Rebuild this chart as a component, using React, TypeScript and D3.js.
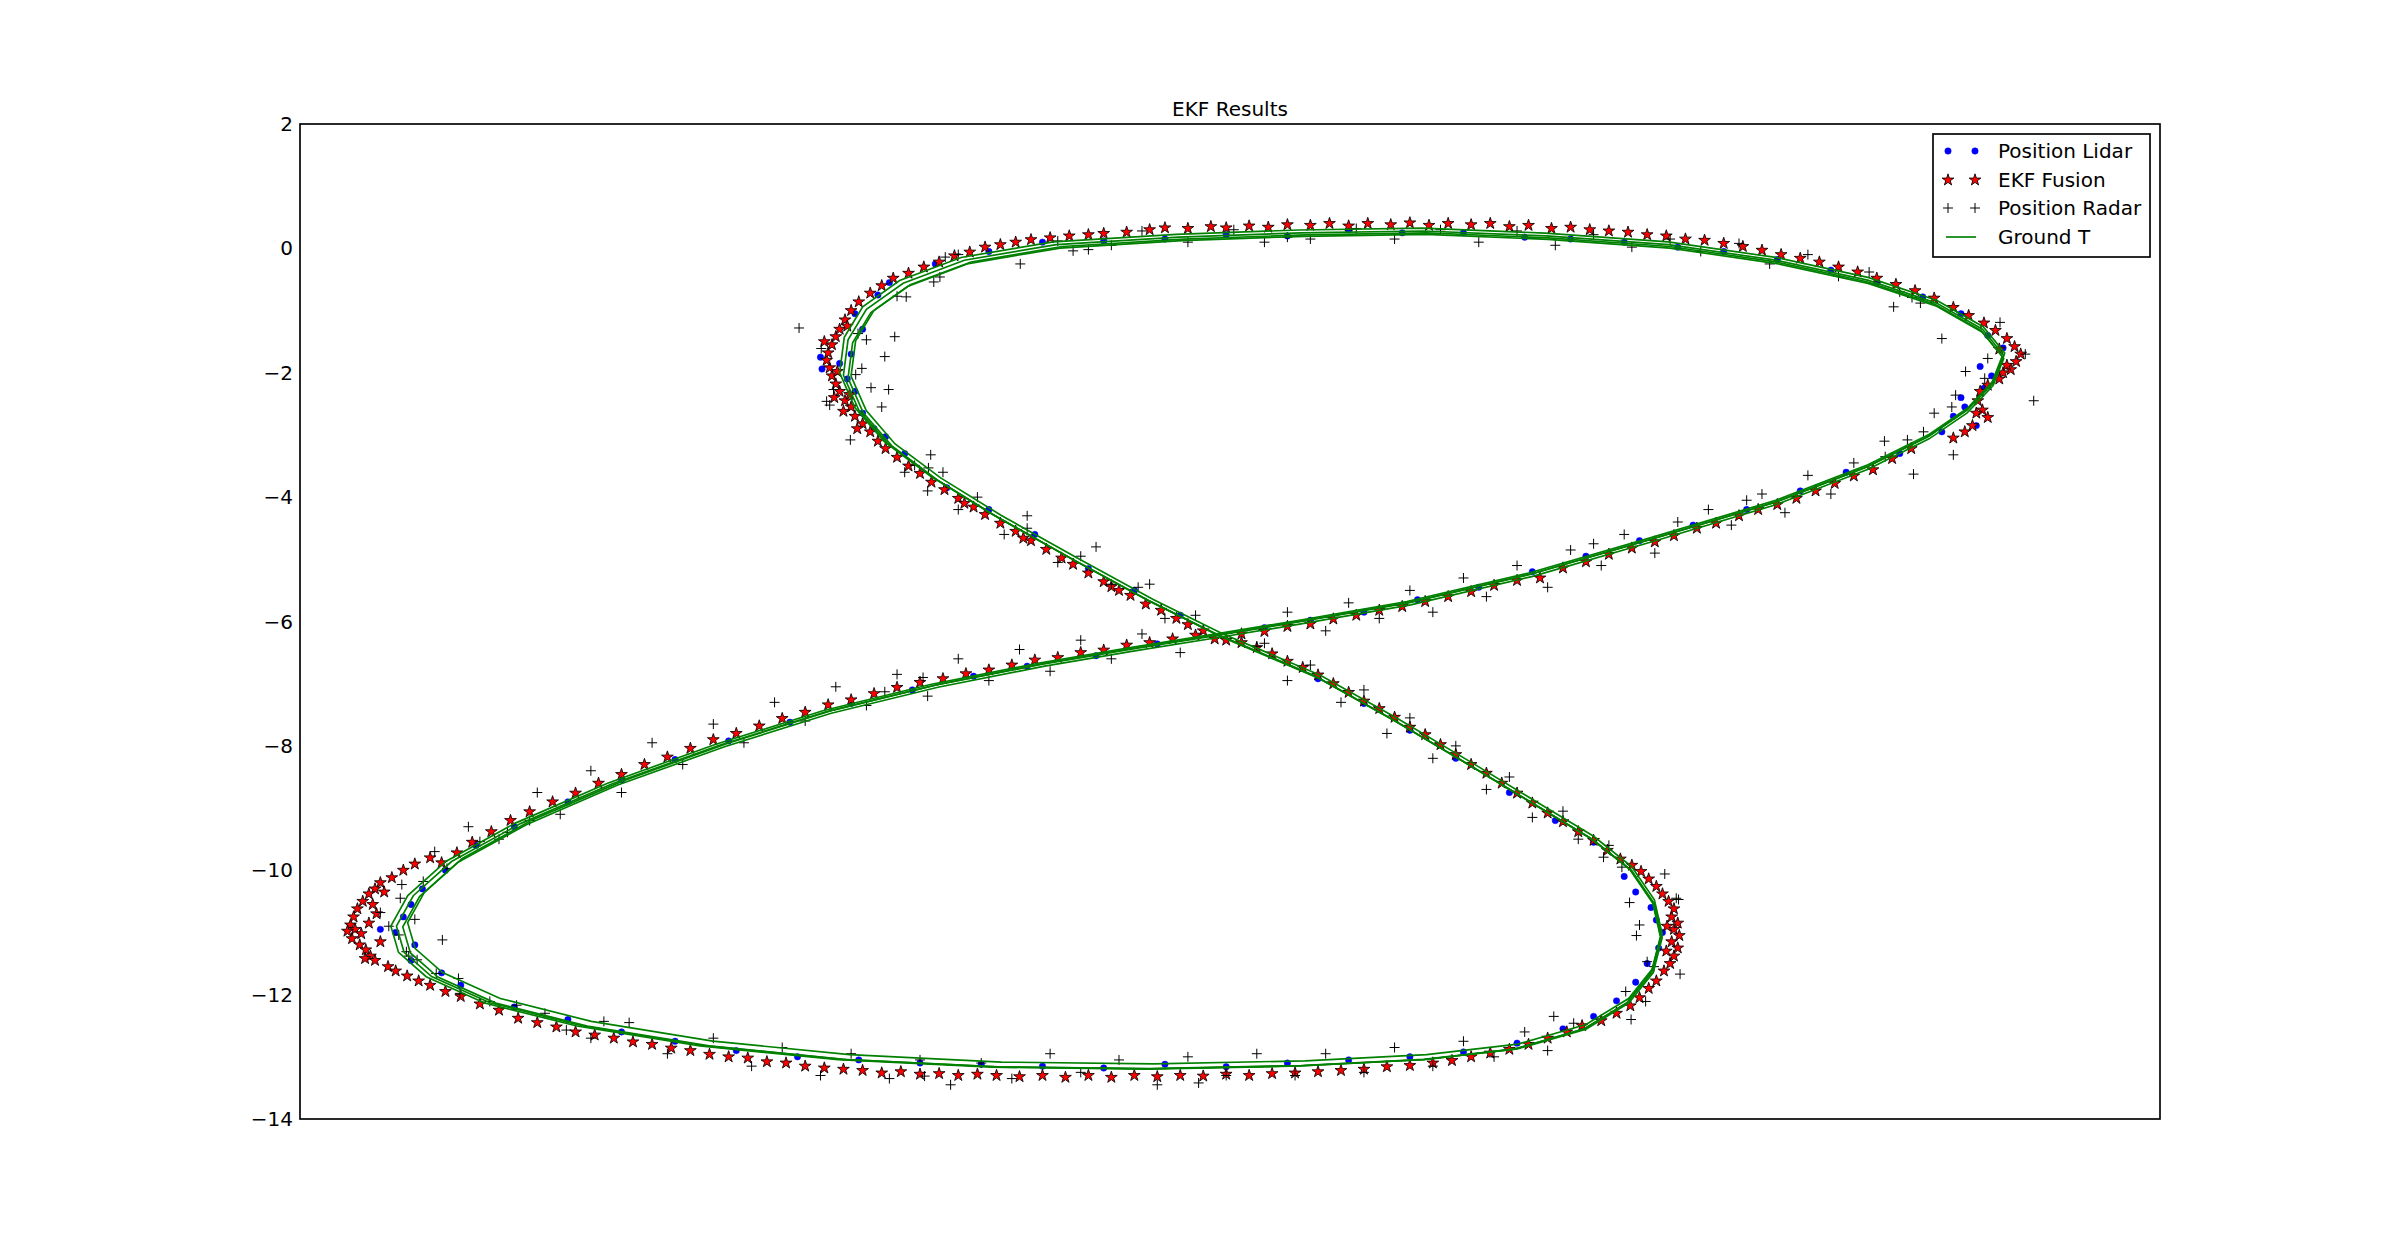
import React from "react";
import * as d3 from "d3";

// ---------- data ----------
const yTicks = [2, 0, -2, -4, -6, -8, -10, -12, -14];
const xDomain: [number, number] = [0, 24.3];
const yDomain: [number, number] = [-14, 2];
const title = "EKF Results";
const legendLabels = ["Position Lidar", "EKF Fusion", "Position Radar", "Ground T"];

// ground truth, one lap
const gtLap: [number, number][] = [
  [12.0, -6.22], [11.08, -5.66], [10.08, -4.99], [9.08, -4.3], [8.28, -3.69], [7.68, -3.14],
  [7.3, -2.6], [7.1, -2.04], [7.16, -1.47], [7.4, -0.98], [7.88, -0.56], [8.68, -0.19],
  [9.88, 0.06], [11.48, 0.18], [13.08, 0.25], [14.68, 0.28], [16.28, 0.2], [17.88, 0.06],
  [19.28, -0.19], [20.48, -0.51], [21.38, -0.88], [21.98, -1.3], [22.26, -1.72], [22.12, -2.16],
  [21.78, -2.6], [21.28, -3.02], [20.48, -3.51], [19.28, -4.08], [17.68, -4.67], [16.08, -5.24],
  [14.48, -5.7], [13.08, -6.0], [12.0, -6.22], [10.88, -6.44], [9.68, -6.69], [8.28, -7.03],
  [6.88, -7.45], [5.48, -7.99], [4.08, -8.61], [2.88, -9.25], [1.98, -9.86], [1.48, -10.41],
  [1.26, -10.9], [1.36, -11.32], [1.72, -11.71], [2.48, -12.13], [3.68, -12.5], [5.28, -12.82],
  [7.08, -13.04], [9.08, -13.16], [11.08, -13.19], [13.08, -13.14], [14.68, -13.04], [15.88, -12.87],
  [16.78, -12.55], [17.34, -12.13], [17.66, -11.64], [17.78, -11.07], [17.68, -10.53], [17.38, -9.99],
  [16.88, -9.5], [16.18, -8.98], [15.28, -8.31], [14.28, -7.58], [13.28, -6.89], [12.48, -6.47],
  [12.0, -6.22],
];
// the ground truth is drawn for several laps, each slightly shifted / scaled
const lapScale = [1.0, 0.996, 1.004, 0.992];
const lapShiftX = [0.0, 0.04, -0.03, 0.06];
const lapShiftY = [0.0, -0.03, 0.02, 0.02];

const fusionPts: [number, number][] = [
  // upper-left branch
  [11.8, -6.15], [11.6, -6.05], [11.45, -5.95], [11.25, -5.82], [11.05, -5.72], [10.85, -5.58], [10.7, -5.5],
  [10.5, -5.36], [10.3, -5.22], [10.1, -5.08], [9.95, -4.98], [9.75, -4.84], [9.55, -4.7], [9.35, -4.55],
  [9.15, -4.42], [8.95, -4.28], [8.8, -4.16], [8.6, -4.02], [8.42, -3.88], [8.25, -3.76], [8.1, -3.62],
  [7.95, -3.5], [7.8, -3.36], [7.65, -3.22], [9.45, -4.66], [8.68, -4.1], [10.6, -5.44],
  // upper-left tip
  [7.55, -3.1], [7.45, -2.95], [7.35, -2.82], [7.25, -2.7], [7.2, -2.55], [7.12, -2.45], [7.05, -2.3],
  [7.0, -2.18], [6.95, -2.05], [6.92, -1.92], [6.88, -1.8], [6.9, -1.68], [6.95, -1.55], [7.0, -1.42],
  [6.85, -1.5], [7.05, -1.3], [7.12, -1.15], [7.2, -1.0], [7.3, -0.86], [7.45, -0.72], [7.6, -0.6],
  [7.75, -0.48], [7.18, -2.35], [7.1, -2.62], [7.02, -1.98], [7.28, -2.9], [6.98, -2.4], [7.15, -1.25],
  // top arc
  [7.95, -0.4], [8.15, -0.3], [8.35, -0.22], [8.55, -0.12], [8.75, -0.06], [8.95, 0.02], [9.15, 0.06],
  [9.35, 0.1], [9.55, 0.14], [9.8, 0.17], [10.05, 0.2], [10.3, 0.22], [10.5, 0.24], [10.8, 0.26],
  [11.1, 0.3], [11.3, 0.33], [11.6, 0.32], [11.9, 0.35], [12.1, 0.33], [12.4, 0.36], [12.65, 0.34],
  [12.9, 0.38], [13.2, 0.37], [13.45, 0.4], [13.7, 0.36], [13.95, 0.4], [14.25, 0.38], [14.5, 0.41],
  [14.75, 0.37], [15.0, 0.4], [15.3, 0.38], [15.55, 0.4], [15.8, 0.35], [16.05, 0.37], [16.35, 0.32],
  [16.6, 0.34], [16.85, 0.3], [17.1, 0.28], [17.35, 0.26], [17.6, 0.22], [17.85, 0.2], [18.1, 0.15],
  [18.35, 0.13], [18.6, 0.08], [18.85, 0.03], [19.1, -0.03], [19.35, -0.1], [19.6, -0.16], [19.85, -0.22],
  [20.1, -0.3], [20.35, -0.38], [20.6, -0.48], [20.85, -0.58], [21.1, -0.68], [21.35, -0.8],
  // top-right tip
  [21.6, -0.95], [21.8, -1.08], [22.0, -1.2], [22.15, -1.32], [22.3, -1.45], [22.4, -1.58], [22.48, -1.7],
  [22.42, -1.82], [22.35, -1.95], [22.25, -2.0], [22.2, -2.1], [22.05, -2.2], [21.95, -2.3], [21.92, -2.45],
  [21.98, -2.6], [22.05, -2.72], [21.85, -2.85], [21.75, -2.95], [21.6, -3.05], [22.2, -1.62], [22.3, -1.88],
  [21.9, -2.65],
  // right branch
  [21.05, -3.22], [20.8, -3.38], [20.55, -3.56], [20.3, -3.66], [20.05, -3.78], [19.8, -3.9], [19.55, -4.02],
  [19.3, -4.12], [19.05, -4.2], [18.8, -4.3], [18.5, -4.42], [18.25, -4.5], [17.95, -4.62], [17.7, -4.72],
  [17.4, -4.82], [17.1, -4.92], [16.8, -5.04], [16.5, -5.14], [16.2, -5.3], [15.9, -5.34], [15.6, -5.42],
  [15.3, -5.52], [15.0, -5.6], [14.7, -5.68], [14.4, -5.76], [14.1, -5.82], [13.8, -5.9], [13.5, -5.96],
  [13.2, -6.04], [12.9, -6.08], [12.6, -6.16], [12.3, -6.2], [12.1, -6.3], [11.95, -6.28],
  // lower-left branch
  [11.7, -6.22], [11.4, -6.28], [11.1, -6.34], [10.8, -6.38], [10.5, -6.46], [10.2, -6.5], [9.9, -6.58],
  [9.6, -6.62], [9.3, -6.7], [9.0, -6.78], [8.7, -6.84], [8.4, -6.92], [8.1, -6.98], [7.8, -7.06],
  [7.5, -7.16], [7.2, -7.26], [6.9, -7.34], [6.6, -7.46], [6.3, -7.56], [6.0, -7.68], [5.7, -7.8],
  [5.4, -7.9], [5.1, -8.04], [4.8, -8.18], [4.5, -8.3], [4.2, -8.46], [3.9, -8.6], [3.6, -8.76],
  [3.3, -8.9], [3.0, -9.06], [2.75, -9.2], [2.5, -9.38], [2.25, -9.55], [2.05, -9.72], [1.85, -9.88],
  // bottom-left tip
  [1.7, -9.8], [1.5, -9.9], [1.35, -10.0], [1.2, -10.12], [1.05, -10.2], [0.98, -10.3], [0.9, -10.38],
  [0.82, -10.5], [0.75, -10.62], [0.7, -10.75], [0.66, -10.88], [0.72, -10.95], [0.8, -11.02], [0.68, -11.1],
  [0.78, -11.2], [0.86, -11.28], [0.92, -11.38], [0.98, -11.45], [0.85, -11.42], [1.0, -10.7], [0.9, -10.85],
  [1.05, -11.15], [1.15, -11.55], [1.25, -11.62], [1.4, -11.7], [1.55, -11.78], [1.7, -11.85], [1.9, -11.95],
  [2.1, -12.03], [2.35, -12.15], [2.6, -12.25], [0.95, -10.55], [0.62, -10.98], [1.1, -10.35],
  // bottom arc
  [2.85, -12.38], [3.1, -12.45], [3.35, -12.52], [3.6, -12.6], [3.85, -12.65], [4.1, -12.7], [4.35, -12.76],
  [4.6, -12.8], [4.85, -12.86], [5.1, -12.9], [5.35, -12.96], [5.6, -13.0], [5.85, -13.02], [6.1, -13.08],
  [6.35, -13.1], [6.6, -13.15], [6.85, -13.18], [7.1, -13.2], [7.35, -13.22], [7.6, -13.26], [7.85, -13.24],
  [8.1, -13.28], [8.35, -13.27], [8.6, -13.3], [8.85, -13.28], [9.1, -13.3], [9.4, -13.32], [9.7, -13.3],
  [10.0, -13.33], [10.3, -13.3], [10.6, -13.33], [10.9, -13.3], [11.2, -13.32], [11.5, -13.3], [11.8, -13.31],
  [12.1, -13.28], [12.4, -13.3], [12.7, -13.27], [13.0, -13.26], [13.3, -13.24], [13.6, -13.22], [13.9, -13.2],
  [14.2, -13.16], [14.5, -13.14], [14.8, -13.1], [15.05, -13.06], [15.3, -13.0], [15.55, -12.94], [15.8, -12.88],
  [16.05, -12.8], [16.3, -12.7], [16.55, -12.6], [16.75, -12.5],
  // bottom-right tip
  [17.0, -12.42], [17.2, -12.3], [17.38, -12.18], [17.5, -12.05], [17.62, -11.9], [17.72, -11.78], [17.82, -11.62],
  [17.9, -11.5], [17.95, -11.38], [18.0, -11.25], [17.92, -11.15], [18.02, -11.05], [17.95, -10.95], [18.0, -10.85],
  [17.92, -10.75], [17.95, -10.62], [17.88, -10.5], [17.8, -10.38], [17.72, -10.26], [17.62, -10.14], [17.52, -10.02],
  [17.4, -9.92], [17.85, -11.3], [17.86, -10.9],
  // lower-right branch
  [17.25, -9.82], [17.08, -9.68], [16.9, -9.52], [16.7, -9.38], [16.5, -9.22], [16.3, -9.08], [16.1, -8.92],
  [15.9, -8.76], [15.7, -8.6], [15.5, -8.44], [15.3, -8.3], [15.1, -8.14], [14.9, -7.98], [14.7, -7.82],
  [14.5, -7.7], [14.3, -7.54], [14.1, -7.4], [13.9, -7.28], [13.7, -7.14], [13.5, -7.0], [13.3, -6.86],
  [13.1, -6.74], [12.9, -6.64], [12.7, -6.52], [12.5, -6.42], [12.3, -6.34],
];

const lidarPts: [number, number][] = [
  [11.5, -5.9], [10.9, -5.5], [10.3, -5.15], [9.6, -4.6], [9.0, -4.2], [8.45, -3.85], [7.9, -3.3], [7.5, -2.9],
  [7.35, -2.65], [7.65, -3.03], [7.25, -2.3], [7.15, -2.1], [7.05, -1.85], [7.2, -1.7], [6.82, -1.94], [6.8, -1.75],
  [7.35, -1.3], [7.25, -1.05], [7.55, -0.75], [7.7, -0.55],
  [8.3, -0.25], [9.0, -0.05], [9.7, 0.1], [10.5, 0.12], [11.3, 0.15], [12.1, 0.22], [12.9, 0.2], [13.7, 0.3],
  [14.4, 0.25], [15.2, 0.25], [16.0, 0.18], [16.6, 0.15], [17.3, 0.1], [18.0, 0.02], [18.6, -0.05], [19.3, -0.18],
  [20.0, -0.35], [20.6, -0.55], [21.2, -0.78], [21.7, -1.05],
  [22.05, -1.4], [22.25, -1.6], [21.95, -1.9], [22.1, -2.05], [22.0, -2.25], [21.7, -2.4], [21.75, -2.55],
  [21.6, -2.7], [21.9, -2.85], [21.45, -2.95],
  [20.9, -3.3], [20.2, -3.6], [19.6, -3.9], [18.9, -4.2], [18.2, -4.45], [17.5, -4.7], [16.8, -4.95], [16.1, -5.2],
  [15.4, -5.45], [14.6, -5.65], [13.9, -5.85], [13.2, -5.98], [12.6, -6.1],
  [11.2, -6.36], [10.4, -6.55], [9.5, -6.72], [8.8, -6.88], [8.0, -7.1], [7.2, -7.32], [6.4, -7.62], [5.6, -7.92],
  [4.9, -8.22], [4.2, -8.55], [3.5, -8.9], [2.8, -9.3], [2.3, -9.6],
  [1.9, -10.0], [1.6, -10.3], [1.45, -10.55], [1.35, -10.75], [1.25, -11.0], [1.05, -10.95], [1.5, -11.2],
  [1.45, -11.45], [1.85, -11.65], [2.1, -11.85],
  [2.8, -12.2], [3.5, -12.4], [4.2, -12.6], [4.9, -12.75], [5.7, -12.9], [6.5, -13.0], [7.3, -13.05], [8.1, -13.1],
  [8.9, -13.12], [9.7, -13.15], [10.5, -13.18], [11.3, -13.12], [12.1, -13.16], [12.9, -13.1], [13.7, -13.05],
  [14.5, -13.0], [15.2, -12.92], [15.9, -12.78], [16.5, -12.55],
  [16.9, -12.35], [17.2, -12.1], [17.45, -11.8], [17.6, -11.5], [17.75, -11.25], [17.8, -11.0], [17.72, -10.8],
  [17.65, -10.6], [17.45, -10.35], [17.3, -10.1],
  [16.9, -9.55], [16.4, -9.2], [15.8, -8.75], [15.1, -8.2], [14.5, -7.75], [13.9, -7.32], [13.3, -6.92], [12.7, -6.55],
];

const radarPts: [number, number][] = [
  // upper-left tip and branch
  [6.52, -1.28], [7.29, -1.37], [7.4, -1.47], [7.77, -1.42], [7.64, -1.74], [7.34, -1.93], [7.26, -2.03],
  [7.46, -2.24], [7.69, -2.27], [7.6, -2.55], [7.19, -3.08], [8.24, -3.32], [8.21, -3.53], [8.03, -3.49],
  [7.8, -0.77], [7.92, -0.78], [8.28, -0.54], [8.36, -0.46], [9.41, -0.25], [10.1, -0.04], [6.88, -2.46],
  [6.92, -2.52], [6.97, -2.27], [6.81, -1.61], [8.43, -0.14],
  [11.7, -5.9], [11.3, -5.95], [10.95, -5.45], [10.6, -5.4], [10.2, -4.95], [9.9, -5.05], [9.5, -4.5],
  [9.2, -4.6], [8.85, -4.0], [8.6, -4.2], [8.4, -3.6], [8.2, -3.9], [7.9, -3.6], [10.4, -4.8], [11.1, -5.4],
  [9.5, -4.3],
  // top arc
  [8.6, -0.1], [9.9, 0.12], [10.6, 0.05], [11.0, 0.28], [11.6, 0.1], [12.2, 0.3], [12.6, 0.1], [13.2, 0.15],
  [13.8, 0.32], [14.3, 0.15], [14.9, 0.3], [15.4, 0.1], [15.9, 0.28], [16.4, 0.05], [16.9, 0.22], [17.4, 0.02],
  [17.9, 0.15], [18.3, -0.05], [18.8, 0.08], [19.2, -0.25], [19.7, -0.1], [20.1, -0.45], [20.5, -0.38],
  [20.9, -0.7], [10.3, -0.02], [12.9, 0.18],
  // top-right tip
  [21.45, -1.45], [20.82, -0.94], [21.76, -1.98], [22.05, -1.77], [22.01, -2.09], [21.63, -2.36], [21.35, -2.65],
  [21.21, -2.95], [21.0, -3.08], [21.6, -3.32], [22.65, -2.45], [22.54, -1.7], [22.21, -1.19], [21.58, -2.55],
  [21.08, -3.63], [20.71, -3.35], [21.17, -0.88], [21.06, -0.79],
  // right branch
  [20.7, -3.1], [20.3, -3.45], [20.0, -3.95], [19.7, -3.65], [19.4, -4.25], [19.1, -3.95], [18.7, -4.45],
  [18.4, -4.2], [18.0, -4.4], [17.7, -4.9], [17.3, -4.6], [17.0, -5.1], [16.6, -4.85], [16.3, -5.45],
  [15.9, -5.1], [15.5, -5.6], [15.2, -5.3], [14.8, -5.85], [14.5, -5.5], [14.1, -5.95], [13.7, -5.7],
  [13.4, -6.15], [12.9, -5.85], [12.5, -6.4], [16.9, -4.75], [18.9, -4.05],
  // lower-left branch
  [11.5, -6.5], [11.0, -6.2], [10.6, -6.6], [10.2, -6.3], [9.8, -6.8], [9.4, -6.45], [9.0, -6.95], [8.6, -6.6],
  [8.2, -7.2], [7.8, -6.85], [7.4, -7.35], [7.0, -7.05], [6.6, -7.6], [6.2, -7.3], [5.8, -7.95], [5.4, -7.65],
  [5.0, -8.3], [4.6, -7.95], [4.2, -8.75], [3.8, -8.4], [3.4, -9.1], [3.1, -8.75], [2.6, -9.5], [2.2, -9.3],
  [7.64, -7.13], [8.14, -6.9],
  // bottom-left tip
  [1.05, -10.68], [1.5, -10.79], [1.86, -11.12], [1.16, -10.9], [1.29, -11.04], [1.39, -11.31], [1.42, -11.38],
  [1.53, -11.44], [1.92, -9.97], [1.61, -10.18], [1.76, -9.7], [2.35, -9.54], [2.71, -9.39], [3.0, -9.2],
  [2.07, -11.74], [1.78, -11.66], [2.09, -11.98], [2.48, -12.11], [2.83, -12.17], [3.48, -12.57], [3.97, -12.43],
  [1.33, -10.23], [1.31, -10.45],
  // bottom arc
  [3.2, -12.3], [3.8, -12.7], [4.3, -12.45], [4.8, -12.95], [5.4, -12.7], [5.9, -13.15], [6.3, -12.85],
  [6.8, -13.3], [7.2, -12.95], [7.7, -13.35], [8.1, -13.05], [8.5, -13.45], [8.9, -13.1], [9.3, -13.35],
  [9.8, -12.95], [10.2, -13.25], [10.7, -13.05], [11.2, -13.45], [11.6, -13.0], [12.1, -13.3], [12.5, -12.95],
  [13.0, -13.3], [13.4, -12.95], [13.9, -13.25], [14.3, -12.85], [14.8, -13.15], [15.2, -12.75], [15.6, -13.0],
  [16.0, -12.6], [16.3, -12.9], [11.74, -13.42], [8.16, -13.31],
  // bottom-right tip
  [17.83, -10.06], [18.01, -10.47], [17.37, -10.52], [17.5, -10.88], [17.46, -11.05], [17.6, -11.47],
  [18.03, -11.67], [17.32, -11.95], [17.58, -12.11], [17.39, -12.4], [17.03, -9.79], [17.27, -9.95],
  [17.69, -11.55], [16.38, -12.35], [16.64, -12.46], [17.98, -10.45],
  // lower-right branch
  [17.1, -9.6], [16.7, -9.5], [16.5, -9.05], [16.1, -9.15], [15.8, -8.5], [15.5, -8.7], [15.1, -8.0],
  [14.8, -8.2], [14.5, -7.55], [14.2, -7.8], [13.9, -7.1], [13.6, -7.3], [13.2, -6.7], [12.9, -6.95], [12.6, -6.35],
];

// ---------- drawing ----------
const W = 2400;
const H = 1243;
const M = { left: 300, right: 2160, top: 124, bottom: 1119 };
const FONT = "'DejaVu Sans', sans-serif";

function starPath(R: number) {
  const r = R * 0.381966;
  const pts: string[] = [];
  for (let i = 0; i < 10; i++) {
    const rad = i % 2 === 0 ? R : r;
    const a = -Math.PI / 2 + (i * Math.PI) / 5;
    pts.push(`${(rad * Math.cos(a)).toFixed(2)},${(rad * Math.sin(a)).toFixed(2)}`);
  }
  return "M" + pts.join("L") + "Z";
}

const STAR = starPath(6.2);
const PLUS = "M-5,0H5M0,-5V5";

export default function App() {
  const x = d3.scaleLinear().domain(xDomain).range([M.left, M.right]);
  const y = d3.scaleLinear().domain(yDomain).range([M.bottom, M.top]);

  const laps = lapScale.map((s, i) =>
    gtLap.map(([px, py]) => [
      12.0 + (px - 12.0) * s + lapShiftX[i],
      -6.22 + (py + 6.22) * s + lapShiftY[i],
    ] as [number, number])
  );
  const line = d3
    .line<[number, number]>()
    .x((d) => x(d[0]))
    .y((d) => y(d[1]));

  const legX = 1933;
  const legY = 134;
  const rowY = [151, 180, 208, 237];

  return (
    <svg
      width={W}
      height={H}
      style={{ position: "absolute", left: 0, top: 0, display: "block", background: "#fff" }}
      fontFamily={FONT}
    >
      <defs>
        <clipPath id="plotClip">
          <rect x={M.left} y={M.top} width={M.right - M.left} height={M.bottom - M.top} />
        </clipPath>
      </defs>
      <rect x={0} y={0} width={W} height={H} fill="#fff" />
      <text x={(M.left + M.right) / 2} y={116} textAnchor="middle" fontSize={20} fill="#000">
        {title}
      </text>

      <g clipPath="url(#plotClip)">
        {lidarPts.map((d, i) => (
          <circle key={"l" + i} cx={x(d[0])} cy={y(d[1])} r={3.2} fill="#0000ff" stroke="#0000ff" strokeWidth={0.5} />
        ))}
        {fusionPts.map((d, i) => (
          <path
            key={"f" + i}
            d={STAR}
            transform={`translate(${x(d[0])},${y(d[1])})`}
            fill="#ff0000"
            stroke="#000"
            strokeWidth={0.85}
            strokeLinejoin="miter"
          />
        ))}
        {radarPts.map((d, i) => (
          <path
            key={"r" + i}
            d={PLUS}
            transform={`translate(${x(d[0])},${y(d[1])})`}
            stroke="#000"
            strokeWidth={1}
            fill="none"
          />
        ))}
        {laps.map((lap, i) => (
          <path key={"g" + i} d={line(lap) || ""} fill="none" stroke="#008000" strokeWidth={1.67} />
        ))}
      </g>

      <rect
        x={M.left}
        y={M.top}
        width={M.right - M.left}
        height={M.bottom - M.top}
        fill="none"
        stroke="#000"
        strokeWidth={1.67}
      />

      {yTicks.map((t) => (
        <text
          key={t}
          x={M.left - 7}
          y={y(t)}
          textAnchor="end"
          dominantBaseline="central"
          fontSize={20}
          fill="#000"
        >
          {t < 0 ? "\u2212" + Math.abs(t) : String(t)}
        </text>
      ))}

      <g>
        <rect x={legX} y={legY} width={217} height={123} fill="#fff" stroke="#000" strokeWidth={1.67} />
        {[1948, 1975].map((mx) => (
          <g key={mx}>
            <circle cx={mx} cy={rowY[0]} r={3.2} fill="#0000ff" stroke="#0000ff" strokeWidth={0.5} />
            <path d={STAR} transform={`translate(${mx},${rowY[1]})`} fill="#ff0000" stroke="#000" strokeWidth={0.85} />
            <path d={PLUS} transform={`translate(${mx},${rowY[2]})`} stroke="#000" strokeWidth={1} fill="none" />
          </g>
        ))}
        <line x1={1946} x2={1976} y1={rowY[3]} y2={rowY[3]} stroke="#008000" strokeWidth={1.67} />
        {legendLabels.map((lab, i) => (
          <text key={lab} x={1998} y={rowY[i]} dominantBaseline="central" fontSize={20} fill="#000">
            {lab}
          </text>
        ))}
      </g>
    </svg>
  );
}
